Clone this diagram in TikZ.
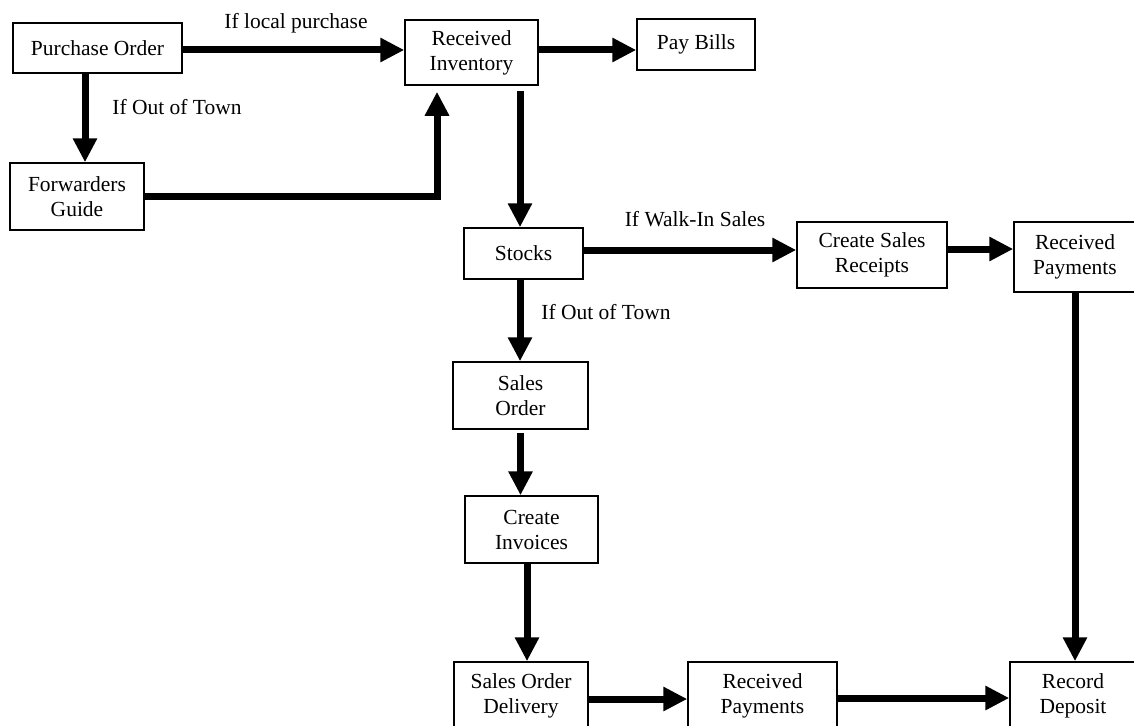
\documentclass[tikz,border=0pt]{standalone}
\usepackage{fontspec}
\setmainfont{Liberation Serif}
\usetikzlibrary{arrows.meta}
\begin{document}
\begin{tikzpicture}[x=1pt,y=-1pt,
  box/.style={draw=black, line width=1.5pt, fill=white, align=center, inner sep=0pt,
              font=\fontsize{21.5}{25}\selectfont},
  flow/.style={line width=7pt, -{Triangle[length=24pt,width=23pt]}},
  lbl/.style={font=\fontsize{21.5}{25}\selectfont, inner sep=0pt}]
\useasboundingbox (0,0) rectangle (1134,725);
\fill[white] (0,0) rectangle (1134,725);

% process boxes
\node[box, minimum width=169pt, minimum height=50pt] (po)  at (97.5,48)    {Purchase Order};
\node[box, minimum width=133pt, minimum height=65pt] (ri)  at (471.5,52.5) {Received\\Inventory};
\node[box, minimum width=118pt, minimum height=51pt] (pb)  at (696,44.5)   {Pay Bills};
\node[box, minimum width=134pt, minimum height=67pt] (fg)  at (77,196.5)   {Forwarders\\Guide};
\node[box, minimum width=119pt, minimum height=51pt] (st)  at (523.5,253.5){Stocks};
\node[box, minimum width=150pt, minimum height=66pt] (csr) at (872,255)    {Create Sales\\Receipts};
\node[box, minimum width=122pt, minimum height=70pt] (rp1) at (1075,257)   {Received\\Payments};
\node[box, minimum width=135pt, minimum height=67pt] (so)  at (520.5,395.5){Sales\\Order};
\node[box, minimum width=133pt, minimum height=67pt] (ci)  at (531.5,529.5){Create\\Invoices};
\node[box, minimum width=134pt, minimum height=67pt] (sod) at (521,695.5)  {Sales Order\\Delivery};
\node[box, minimum width=149pt, minimum height=67pt] (rp2) at (762.5,695.5){Received\\Payments};
\node[box, minimum width=126pt, minimum height=67pt] (rd)  at (1073,695.5) {Record\\Deposit};

% branch labels
\node[lbl] (l1) at (296,23)  {If local purchase};
\node[lbl] (l2) at (177,107) {If Out of Town};
\node[lbl] (l3) at (695,219) {If Walk-In Sales};
\node[lbl] (l4) at (606,312) {If Out of Town};

% connectors
\draw[flow] ([yshift=-2pt]po.east) -- ([yshift=-2pt]po.east -| ri.west);
\draw[flow] ([xshift=-12.5pt]po.south) -- ([xshift=-12.5pt]po.south |- fg.north);
\draw[flow, shorten >=6pt] (fg.east) -| ([xshift=-34.5pt]ri.south);
\draw[flow] ([yshift=2.5pt]ri.east) -- ([yshift=2.5pt]ri.east -| pb.west);
\draw[flow, shorten <=5pt] ([xshift=-3.5pt]st.north |- ri.south) -- ([xshift=-3.5pt]st.north);
\draw[flow] ([yshift=3.5pt]st.east) -- ([yshift=3.5pt]st.east -| csr.west);
\draw[flow] ([yshift=6pt]csr.east) -- ([yshift=6pt]csr.east -| rp1.west);
\draw[flow] ([xshift=-3.5pt]st.south) -- ([xshift=-3.5pt]st.south |- so.north);
\draw[flow, shorten <=3pt] (so.south) -- (so.south |- ci.north);
\draw[flow] ([xshift=-4.5pt]ci.south) -- ([xshift=-4.5pt]ci.south |- sod.north);
\draw[flow] ([yshift=-3.5pt]sod.east) -- ([yshift=-3.5pt]sod.east -| rp2.west);
\draw[flow] ([yshift=-2.5pt]rp2.east) -- ([yshift=-2.5pt]rp2.east -| rd.west);
\draw[flow] (rp1.south) -- (rp1.south |- rd.north);
\end{tikzpicture}
\end{document}
